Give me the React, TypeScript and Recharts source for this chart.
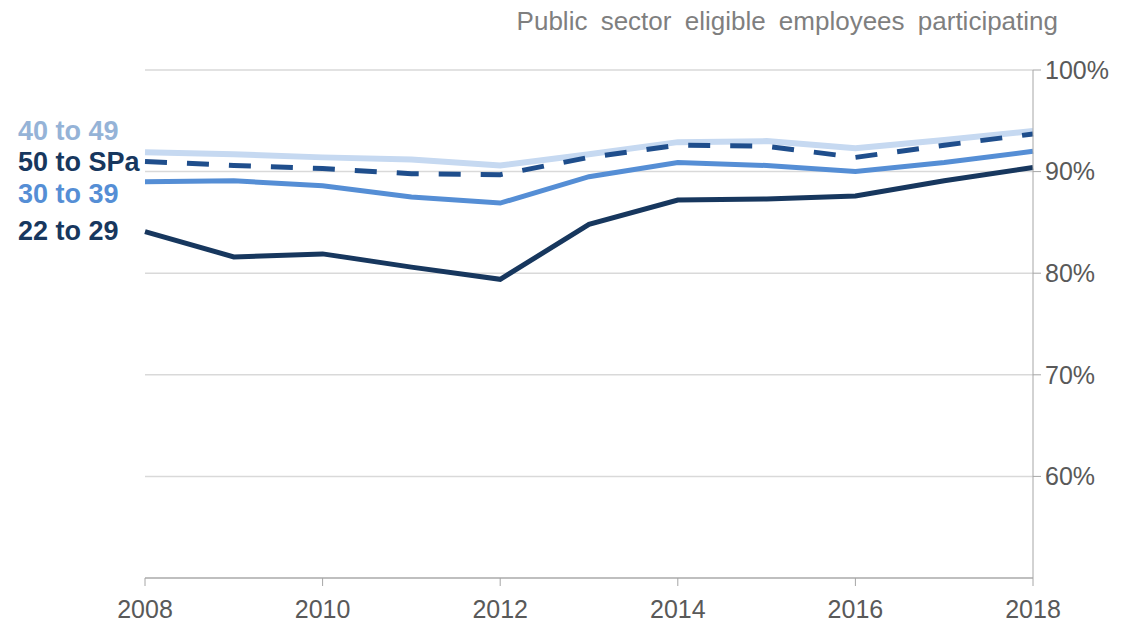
import { LineChart, Line, XAxis, YAxis, CartesianGrid } from 'recharts';

const years = [2008, 2009, 2010, 2011, 2012, 2013, 2014, 2015, 2016, 2017, 2018];
const age22to29 = [84.1, 81.6, 81.9, 80.6, 79.4, 84.8, 87.2, 87.3, 87.6, 89.1, 90.4];
const age30to39 = [89.0, 89.1, 88.6, 87.5, 86.9, 89.5, 90.9, 90.6, 90.0, 90.9, 92.0];
const age40to49 = [91.9, 91.7, 91.4, 91.2, 90.6, 91.7, 92.9, 93.0, 92.3, 93.1, 94.0];
const age50toSPa = [91.0, 90.6, 90.3, 89.8, 89.7, 91.4, 92.6, 92.5, 91.4, 92.6, 93.7];
const yTicks = [60, 70, 80, 90, 100];
const xTicks = [2008, 2010, 2012, 2014, 2016, 2018];

const data = years.map((year, i) => ({
  year,
  a22: age22to29[i],
  a30: age30to39[i],
  a40: age40to49[i],
  a50: age50toSPa[i],
}));

const labels = [
  { text: '40 to 49', color: '#95b3d7', top: 116 },
  { text: '50 to SPa', color: '#17375e', top: 147 },
  { text: '30 to 39', color: '#558ed5', top: 179 },
  { text: '22 to 29', color: '#17375e', top: 216 },
];

const tickStyle = { fill: '#595959', fontSize: 25, fontFamily: 'Liberation Sans, Arial, sans-serif' };

export default function App() {
  return (
    <div style={{ position: 'absolute', left: 0, top: 0, width: 1128, height: 628, background: '#fff', fontFamily: 'Liberation Sans, Arial, sans-serif' }}>
      <LineChart width={1128} height={628} data={data} margin={{ top: 70, right: 15, bottom: 0, left: 145 }}>
        <CartesianGrid vertical={false} stroke="#d9d9d9" strokeWidth={1.5} />
        <XAxis
          dataKey="year"
          type="number"
          domain={[2008, 2018]}
          ticks={xTicks}
          tick={tickStyle}
          tickLine={{ stroke: '#a6a6a6' }}
          axisLine={{ stroke: '#bfbfbf', strokeWidth: 2 }}
          tickSize={8}
          tickMargin={14}
          height={50}
        />
        <YAxis
          orientation="right"
          domain={[50, 100]}
          ticks={yTicks}
          tickFormatter={(v: number) => `${v}%`}
          tick={tickStyle}
          tickLine={{ stroke: '#a6a6a6' }}
          axisLine={{ stroke: '#a6a6a6' }}
          tickSize={8}
          tickMargin={4}
          width={80}
        />
        <Line dataKey="a40" stroke="#c6d9f1" strokeWidth={6} dot={false} isAnimationActive={false} />
        <Line dataKey="a50" stroke="#1f4e8c" strokeWidth={5} strokeDasharray="22 20" dot={false} isAnimationActive={false} />
        <Line dataKey="a30" stroke="#558ed5" strokeWidth={5} dot={false} isAnimationActive={false} />
        <Line dataKey="a22" stroke="#17375e" strokeWidth={5} dot={false} isAnimationActive={false} />
      </LineChart>
      <div style={{ position: 'absolute', right: 70, top: 6, fontSize: 26, wordSpacing: 6, color: '#7f7f7f', whiteSpace: 'nowrap' }}>
        Public sector eligible employees participating
      </div>
      {labels.map((l) => (
        <div key={l.text} style={{ position: 'absolute', left: 18, top: l.top, fontSize: 27, fontWeight: 'bold', color: l.color, whiteSpace: 'nowrap', lineHeight: '31px' }}>
          {l.text}
        </div>
      ))}
    </div>
  );
}
